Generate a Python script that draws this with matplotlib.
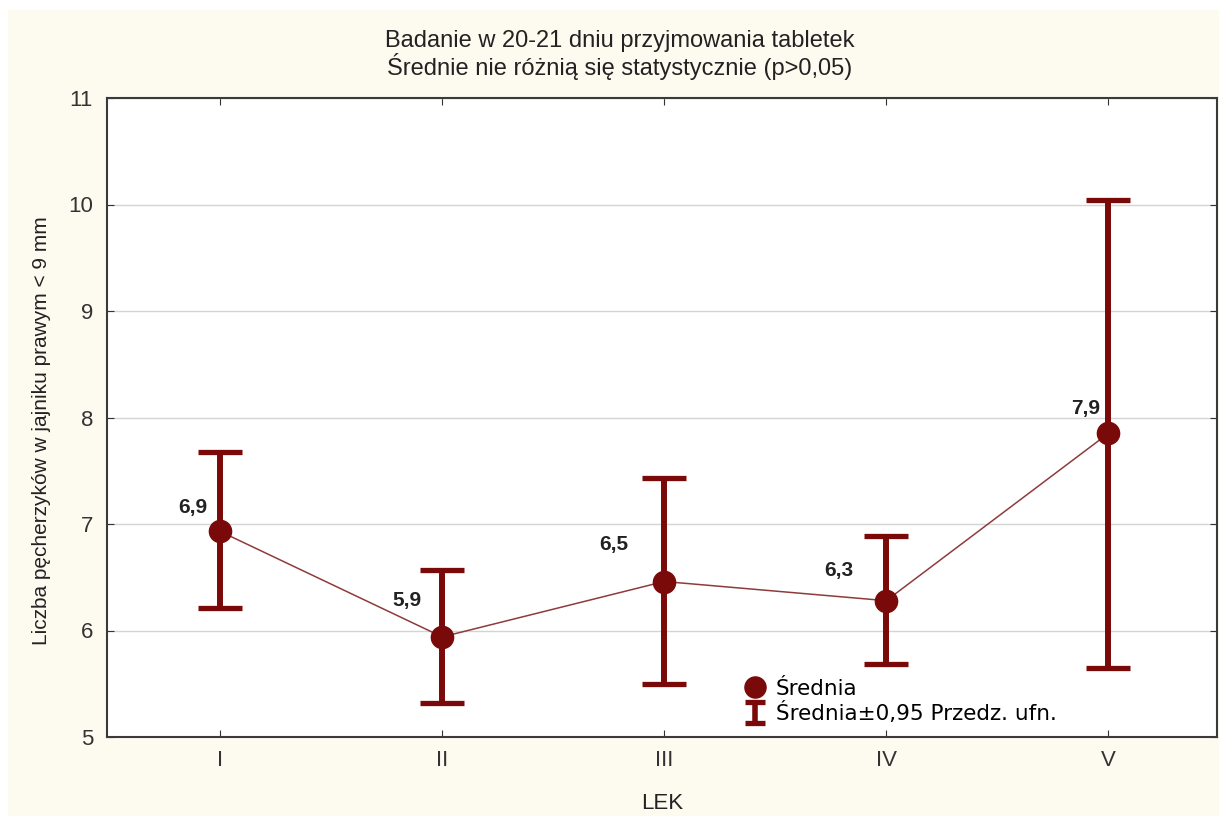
import numpy as np
import matplotlib.pyplot as plt
from matplotlib.patches import Rectangle
from matplotlib.legend_handler import HandlerErrorbar

# data
groups = ['I', 'II', 'III', 'IV', 'V']
means = [6.93, 5.94, 6.46, 6.28, 7.85]
ci_low = [6.21, 5.32, 5.50, 5.69, 5.65]
ci_high = [7.68, 6.57, 7.43, 6.89, 10.04]
mean_labels = ['6,9', '5,9', '6,5', '6,3', '7,9']
# where each value label sits relative to its point (pixels)
label_offsets = [(-27, 24), (-35, 36), (-50, 37), (-47, 30), (-23, 25)]

DARK_RED = '#7a0a0a'
LINE_RED = '#8e3b3b'
CREAM = '#fdfaf0'
TXT = '#222222'

plt.rcParams['font.family'] = ['Liberation Sans', 'DejaVu Sans']

fig = plt.figure(figsize=(12.19, 8.16), dpi=100, facecolor='white')
# cream panel, thin white strip top/left like the screenshot
fig.patches.append(Rectangle((8 / 1219, 0), 1 - 8 / 1219, 1 - 10 / 816,
                             transform=fig.transFigure, facecolor=CREAM,
                             edgecolor='none', zorder=-10))

ax = fig.add_axes([107 / 1219, 1 - 737 / 816, 1110 / 1219, 639 / 816])
ax.set_facecolor('white')

x = np.arange(len(groups))
m = np.array(means)
yerr = np.vstack([m - np.array(ci_low), np.array(ci_high) - m])

ax.plot(x, m, '-', color=LINE_RED, lw=1.1, zorder=2)
ax.errorbar(x, m, yerr=yerr, fmt='none', ecolor=DARK_RED, elinewidth=4.3,
            capsize=16, capthick=3.8, zorder=3)
pts, = ax.plot(x, m, 'o', color=DARK_RED, markersize=16, zorder=4, linestyle='none')

# small proxy just for the legend icon
eb_proxy = ax.errorbar([np.nan], [np.nan], yerr=[[1], [1]], fmt='none', ecolor=DARK_RED,
                       elinewidth=4, capsize=7.5, capthick=3.8)

for xi, yi, lab, off in zip(x, m, mean_labels, label_offsets):
    ax.annotate(lab, (xi, yi), xytext=off, textcoords='offset pixels',
                ha='center', va='center', fontsize=15, fontweight='bold', color=TXT)

ax.set_xlim(-0.51, 4.49)
ax.set_ylim(5, 11)
ax.set_xticks(x)
ax.set_xticklabels(groups)
ax.set_yticks(range(5, 12))
ax.yaxis.grid(True, color='#d4d4d4', lw=1)
ax.set_axisbelow(True)
ax.tick_params(direction='in', length=5, top=True, right=True, labelsize=16,
               colors='#333333')
ax.tick_params(axis='y', pad=10)
ax.tick_params(axis='x', pad=9)
for s in ax.spines.values():
    s.set_color('#3a3a3a')
    s.set_linewidth(1.5)

ax.set_xlabel('LEK', fontsize=16, color=TXT, labelpad=16)
ax.set_ylabel('Liczba pęcherzyków w jajniku prawym < 9 mm', fontsize=15, color=TXT)
ax.yaxis.set_label_coords(-0.05, 0.48)

fig.text(620 / 1219, 1 - 47 / 816, 'Badanie w 20-21 dniu przyjmowania tabletek',
         ha='center', va='baseline', fontsize=17, color=TXT)
fig.text(620 / 1219, 1 - 75 / 816, 'Średnie nie różnią się statystycznie (p>0,05)',
         ha='center', va='baseline', fontsize=17, color=TXT)

ax.legend([pts, eb_proxy], ['Średnia', 'Średnia±0,95 Przedz. ufn.'], loc='upper left',
          bbox_to_anchor=((733 - 107) / 1110, (737 - 668) / 639), frameon=False,
          prop={'family': 'DejaVu Sans', 'size': 15.5}, borderpad=0,
          handlelength=1.0, handletextpad=0.5, labelspacing=0.15, markerscale=0.95,
          handler_map={type(eb_proxy): HandlerErrorbar()})

fig.savefig('out.png', dpi=100, facecolor=fig.get_facecolor())
